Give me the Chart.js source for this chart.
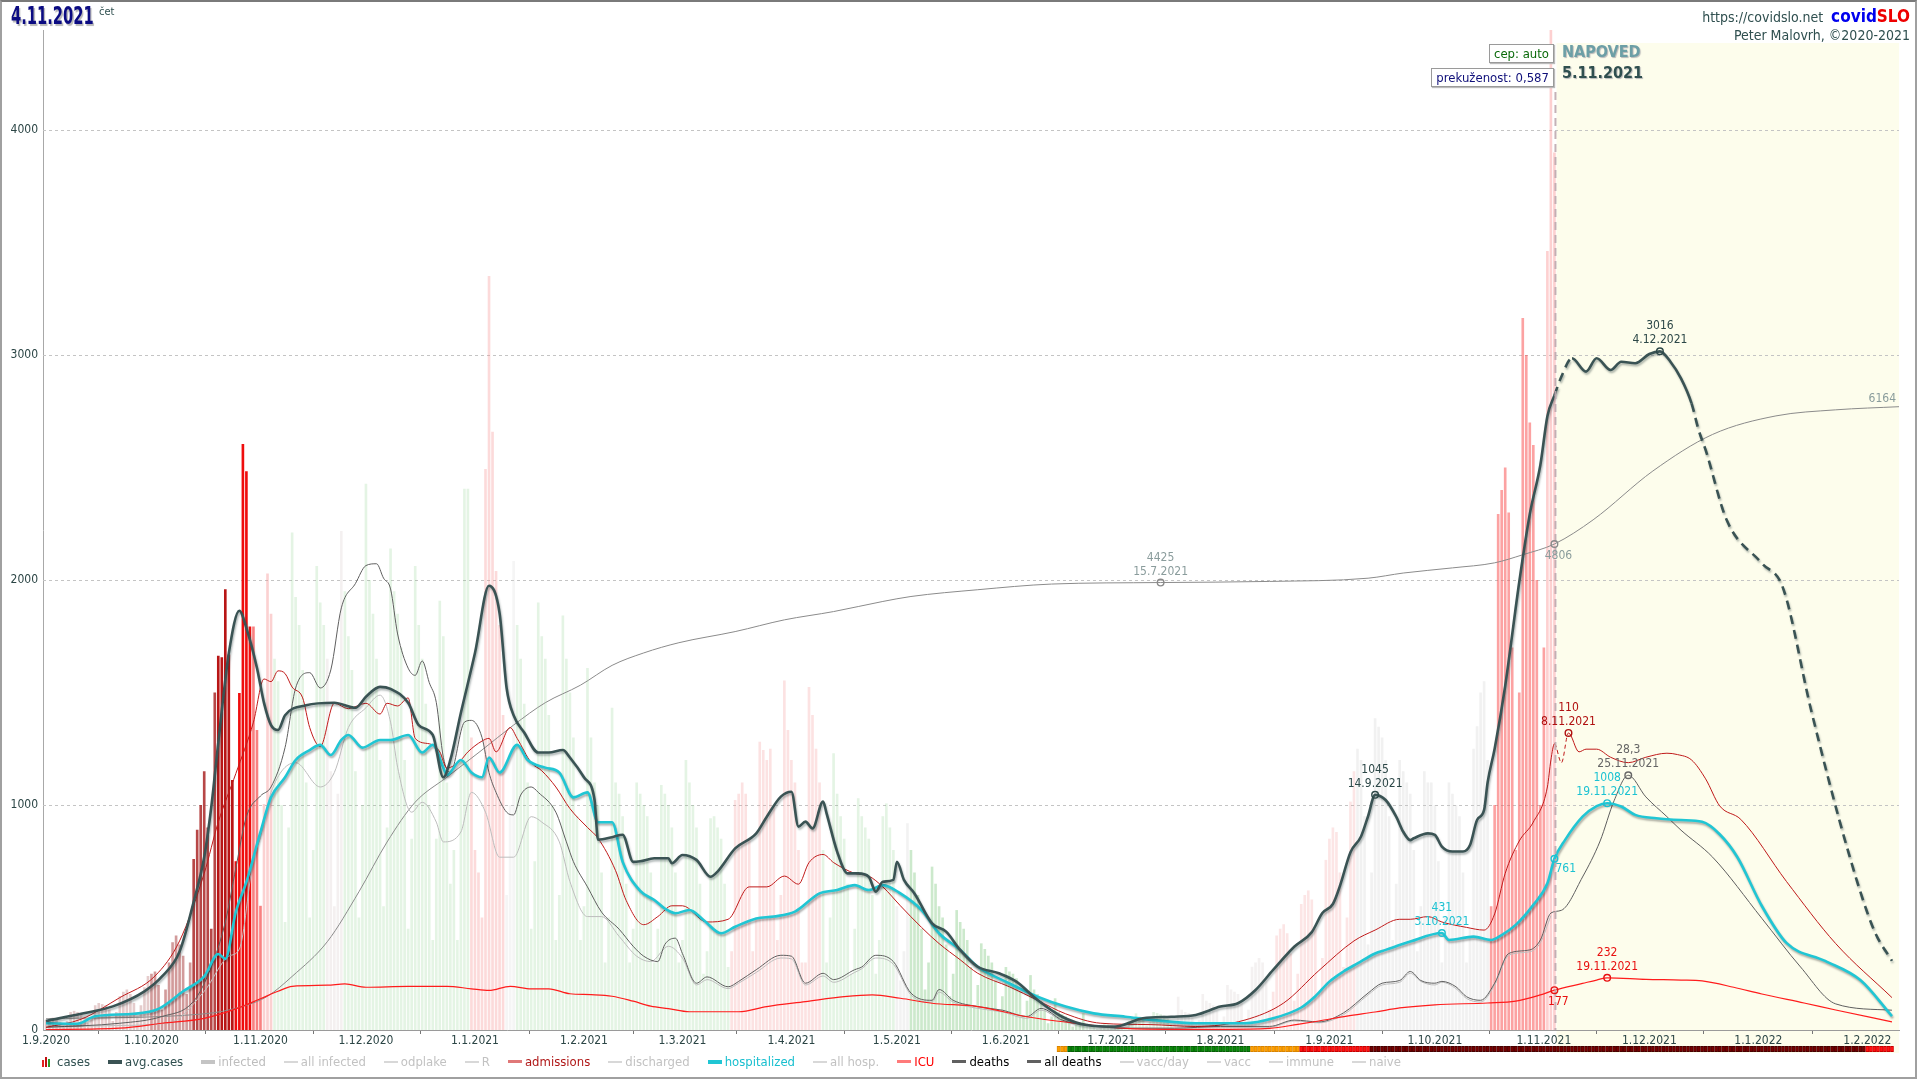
<!DOCTYPE html>
<html>
<head>
<meta charset="utf-8">
<title>covidSLO 4.11.2021</title>
<script src="https://cdn.jsdelivr.net/npm/chart.js@4.4.0/dist/chart.umd.min.js"></script>
<style>
  body { margin: 0; background: #fff; }
  #wrap { position: relative; width: 1920px; height: 1080px; overflow: hidden;
          font-family: "Liberation Sans Narrow", "DejaVu Sans Condensed", "Roboto", sans-serif; }
  canvas { position: absolute; left: 0; top: 0; }
  #frame { position: absolute; left: 0; top: 0; width: 1917px; height: 1079px; box-sizing: border-box;
           border: 2px solid #a0a0a0; border-top-color: #7a7a7a; pointer-events: none; }
  .ov { position: absolute; white-space: nowrap; }
  #date { left: 11px; top: 2px; font-weight: bold; font-size: 24px; color: #0b0b82; text-shadow: 2px 2px 1px #b8b8b8;
          transform: scaleX(0.68); transform-origin: left top; }
  #dow { left: 99px; top: 5px; font-size: 11px; color: #2f4f4f; }
  #site { right: 10px; top: 6px; font-size: 14px; color: #2f4f4f; }
  #site b { font-size: 17px; }
  #author { right: 10px; top: 27px; font-size: 14px; color: #2f4f4f; }
  #napoved { left: 1562px; top: 42px; font-weight: bold; font-size: 16px; color: #6c9fa6; text-shadow: 1px 1px 1px #b8b8b8; }
  #fdate { left: 1562px; top: 63px; font-weight: bold; font-size: 16px; color: #2f4f4f; text-shadow: 1px 1px 1px #b8b8b8; }
  .box { background: #fff; border: 1px solid #9a9a9a; box-shadow: 1px 1px 1px #bbb; font-size: 13px; padding: 1px 4px; }
  #cep { right: 366px; top: 44px; color: #0a6a0a; }
  #prek { right: 366px; top: 68px; color: #10107a; }
  #legend { left: 42px; top: 1054px; display: flex; gap: 18px; font-size: 13px; align-items: center; }
  #legend .it { display: flex; align-items: center; gap: 3px; }
  #legend .ln { display: inline-block; width: 14px; }
  #legend .bars { display: inline-flex; align-items: flex-end; gap: 1px; height: 10px; width: 12px; }
  #legend .bars i { display: inline-block; width: 2px; }
</style>
</head>
<body>
<div id="wrap">
  <canvas id="covidChart" width="1920" height="1080"></canvas>
  <div id="frame"></div>
  <div id="date" class="ov">4.11.2021</div>
  <div id="dow" class="ov">čet</div>
  <div id="site" class="ov">https://covidslo.net&nbsp; <b style="color:#0000ee">covid</b><b style="color:#ee0000">SLO</b></div>
  <div id="author" class="ov">Peter Malovrh, ©2020-2021</div>
  <div id="napoved" class="ov">NAPOVED</div>
  <div id="fdate" class="ov">5.11.2021</div>
  <div id="cep" class="ov box">cep: auto</div>
  <div id="prek" class="ov box">prekuženost: 0,587</div>
  <div id="legend" class="ov"></div>
</div>
<script>
// dates are counted in days from 1.9.2020
const START = Date.UTC(2020, 8, 1);
function dayOf(s) {
    const p = s.split('.').map(Number);
    return Math.round((Date.UTC(p[2], p[1] - 1, p[0]) - START) / 86400000);
}

const monthTicks = ['1.9.2020', '1.10.2020', '1.11.2020', '1.12.2020', '1.1.2021', '1.2.2021', '1.3.2021',
    '1.4.2021', '1.5.2021', '1.6.2021', '1.7.2021', '1.8.2021', '1.9.2021', '1.10.2021', '1.11.2021',
    '1.12.2021', '1.1.2022', '1.2.2022'];
const yTicks = [0, 1000, 2000, 3000, 4000];
const lastDay = '4.11.2021';

// daily confirmed cases, 1.9.2020 .. 4.11.2021 (rows Tue..Mon)
const casesDaily = [
    45, 50, 55, 45, 35, 20, 40,
    80, 85, 80, 75, 60, 30, 55,
    110, 120, 115, 110, 90, 40, 80,
    150, 170, 180, 160, 120, 60, 110,
    190, 240, 250, 260, 200, 90, 180,
    300, 390, 420, 380, 330, 160, 300,
    760, 890, 1000, 1150, 900, 450, 1500,
    1663, 1656, 1959, 1669, 1111, 750, 1498,
    2604, 2483, 1793, 1793, 1333, 552, 1004,
    2029, 1850, 1650, 1550, 1000, 480, 900,
    2211, 1924, 1800, 1600, 1100, 500, 800,
    2062, 1900, 1800, 1650, 1150, 550, 1050,
    2218, 1950, 1750, 1600, 1150, 500, 1000,
    2427, 2000, 1850, 1650, 1200, 550, 900,
    2140, 1950, 1850, 1700, 1200, 450, 850,
    2062, 1800, 1650, 1450, 1000, 400, 850,
    1908, 1750, 1100, 650, 800, 400, 1200,
    2405, 2405, 1300, 800, 700, 500, 2493,
    3351, 2659, 2040, 1800, 1400, 600, 1000,
    2084, 1800, 1650, 1450, 1100, 450, 750,
    1900, 1750, 1650, 1400, 1000, 400, 600,
    1842, 1650, 1500, 1300, 950, 400, 550,
    1609, 1300, 1100, 1000, 700, 300, 500,
    1432, 1100, 1050, 950, 650, 300, 450,
    1100, 1050, 1000, 950, 700, 300, 450,
    1089, 1050, 1000, 900, 700, 300, 400,
    1200, 1100, 1000, 900, 650, 250, 350,
    941, 950, 900, 850, 650, 280, 350,
    1022, 1050, 1100, 1050, 850, 350, 500,
    1281, 1244, 1200, 1250, 1000, 400, 600,
    1553, 1333, 1200, 1100, 800, 300, 300,
    1524, 1400, 1250, 1100, 800, 300, 500,
    1230, 1050, 950, 850, 650, 250, 450,
    1030, 950, 900, 850, 600, 250, 400,
    950, 1007, 900, 800, 550, 220, 350,
    919, 800, 700, 600, 450, 180, 300,
    726, 650, 550, 500, 380, 150, 250,
    533, 480, 450, 400, 280, 110, 200,
    385, 360, 330, 300, 220, 80, 150,
    280, 260, 250, 230, 170, 65, 130,
    244, 180, 160, 130, 90, 30, 60,
    141, 80, 70, 60, 40, 15, 25,
    35, 74, 30, 25, 15, 5, 8,
    30, 25, 20, 18, 12, 5, 8,
    40, 55, 74, 60, 45, 20, 35,
    80, 75, 70, 65, 50, 25, 40,
    148, 90, 80, 75, 55, 25, 45,
    160, 130, 120, 110, 85, 35, 60,
    200, 180, 170, 160, 120, 45, 90,
    281, 300, 320, 300, 240, 90, 170,
    420, 450, 470, 430, 340, 130, 250,
    560, 600, 620, 580, 450, 170, 320,
    756, 850, 900, 880, 700, 280, 500,
    1015, 1150, 1250, 1200, 950, 380, 700,
    1385, 1348, 1300, 1200, 950, 400, 650,
    1200, 1150, 1100, 1050, 800, 350, 550,
    1150, 1100, 1100, 1000, 750, 300, 500,
    1100, 1050, 1000, 950, 700, 300, 450,
    1250, 1350, 1500, 1550, 1200, 550, 1000,
    2293, 2400, 2500, 2300, 1700, 800, 1500,
    3164, 3000, 2700, 2600, 2000, 1000, 1700,
    3462, 4511, 3900
];

// [day, value] – measured series and forecast after 4.11.2021
const avgCases = [[0, 40], [10, 72], [19, 105], [28, 172], [33, 238], [38, 349], [42, 570], [45, 769], [47, 990],
    [49, 1277], [52, 1675], [55, 1863], [57, 1786], [60, 1609], [62, 1454], [64, 1355], [66, 1333], [68, 1399],
    [74, 1443], [82, 1454], [88, 1432], [91, 1481], [95, 1525], [98, 1516], [103, 1454], [106, 1355], [110, 1311],
    [113, 1123], [115, 1200], [118, 1410], [122, 1675], [126, 1974], [129, 1852], [131, 1520], [133, 1398],
    [136, 1322], [140, 1233], [143, 1233], [147, 1244], [149, 1211], [153, 1123], [156, 1023], [157, 846],
    [161, 857], [164, 868], [167, 747], [169, 750], [173, 763], [177, 763], [178, 741], [181, 778], [185, 756],
    [189, 681], [191, 704], [196, 807], [202, 874], [205, 948], [209, 1037], [212, 1059], [214, 904], [216, 926],
    [218, 896], [221, 1015], [222, 963], [225, 793], [228, 696], [231, 696], [234, 681], [236, 615], [238, 659],
    [241, 667], [242, 748], [244, 667], [247, 607], [252, 474], [256, 437], [260, 356], [265, 281], [271, 252],
    [276, 215], [282, 133], [289, 59], [296, 22], [304, 15], [312, 52], [320, 59], [327, 67], [334, 104],
    [339, 119], [344, 178], [349, 267], [355, 370], [360, 435], [363, 520], [366, 560], [368, 640], [371, 790],
    [374, 860], [376, 950], [378, 1045], [381, 1022], [384, 948], [386, 881], [388, 844], [389, 852], [393, 874],
    [395, 867], [397, 815], [400, 793], [403, 793], [405, 822], [407, 933], [409, 978], [410, 1100], [412, 1250],
    [415, 1529], [419, 1991], [422, 2293], [425, 2511], [427, 2728], [429, 2820], [431, 2904], [434, 2985],
    [438, 2926], [441, 2985], [445, 2933], [448, 2970], [452, 2963], [456, 3004], [459, 3016], [462, 2970],
    [465, 2896], [468, 2785], [470, 2667], [472, 2578], [478, 2266], [488, 2074], [494, 1965], [502, 1422],
    [513, 769], [520, 440], [525, 307]];

const hospitalized = [[0, 30], [9, 28], [14, 61], [25, 72], [32, 94], [39, 172], [45, 238], [49, 338], [51, 316],
    [54, 526], [57, 658], [61, 880], [64, 1034], [68, 1123], [71, 1200], [75, 1244], [78, 1267], [81, 1222],
    [84, 1289], [86, 1311], [90, 1255], [95, 1289], [98, 1289], [103, 1311], [107, 1233], [110, 1267],
    [113, 1166], [114, 1133], [118, 1200], [121, 1144], [124, 1123], [126, 1211], [129, 1144], [134, 1267],
    [137, 1200], [142, 1166], [146, 1144], [150, 1034], [154, 1056], [157, 923], [161, 923], [164, 747],
    [169, 618], [173, 578], [176, 540], [179, 519], [183, 533], [187, 489], [192, 430], [196, 459], [202, 496],
    [207, 504], [213, 526], [220, 607], [225, 622], [230, 644], [234, 622], [238, 644], [243, 607], [249, 533],
    [254, 430], [260, 356], [265, 281], [274, 207], [282, 148], [290, 104], [298, 74], [307, 59], [315, 44],
    [327, 30], [341, 30], [349, 52], [357, 100], [361, 150], [365, 215], [369, 260], [373, 296], [378, 340],
    [381, 356], [388, 393], [397, 431], [399, 400], [406, 415], [411, 400], [414, 422], [418, 467], [423, 556],
    [427, 652], [429, 761], [432, 844], [437, 948], [441, 995], [444, 1008], [448, 993], [452, 956], [458, 941],
    [465, 933], [471, 925], [476, 870], [481, 769], [488, 551], [495, 387], [506, 307], [516, 222], [525, 62]];

const icu = [[0, 2], [21, 8], [33, 30], [45, 52], [54, 94], [61, 139], [66, 172], [70, 194], [80, 199], [85, 205],
    [91, 190], [103, 194], [114, 194], [121, 183], [126, 176], [132, 194], [138, 183], [143, 183], [149, 161],
    [155, 157], [161, 150], [167, 128], [172, 106], [177, 95], [183, 81], [197, 81], [205, 104], [216, 126],
    [227, 148], [235, 156], [243, 141], [252, 119], [265, 104], [279, 59], [293, 30], [307, 7], [321, 3],
    [334, 3], [348, 7], [356, 25], [362, 40], [370, 62], [378, 80], [385, 98], [395, 112], [410, 120],
    [418, 128], [425, 156], [429, 177], [437, 207], [441, 222], [444, 232], [455, 225], [465, 222], [471, 218],
    [480, 190], [488, 160], [500, 120], [509, 89], [525, 36]];

const admissions = [[0, 1], [10, 4], [21, 12], [31, 20], [38, 33], [45, 58], [49, 77], [54, 95], [59, 114],
    [62, 130], [64, 129], [66, 133], [68, 132], [70, 127], [73, 123], [75, 112], [78, 105], [82, 121], [86, 119],
    [91, 121], [95, 117], [97, 121], [100, 120], [103, 123], [105, 108], [109, 106], [112, 103], [114, 97],
    [118, 100], [120, 103], [124, 107], [126, 108], [128, 103], [132, 112], [134, 108], [138, 99], [141, 96],
    [145, 90], [149, 82], [154, 75], [157, 71], [162, 59], [165, 48], [170, 39], [174, 42], [178, 46], [181, 46],
    [188, 40], [194, 41], [200, 53], [205, 53], [210, 57], [214, 54], [217, 62], [221, 65], [224, 62], [230, 58],
    [234, 57], [238, 53], [243, 46], [249, 38], [254, 32], [260, 26], [265, 21], [274, 16], [282, 11], [290, 6],
    [300, 2.5], [314, 2], [327, 1.3], [341, 3.7], [352, 10], [362, 22], [372, 33], [378, 37], [385, 41],
    [388, 41], [393, 42], [397, 40], [404, 38], [409, 37], [412, 43], [415, 58], [419, 70], [423, 77], [427, 90],
    [428, 100], [429, 106], [431, 99], [433, 110], [436, 103], [438, 104], [441, 104], [445, 101], [450, 99],
    [455, 101], [461, 102.5], [464, 102], [468, 100], [472, 93], [476, 83], [482, 78], [495, 55], [509, 32],
    [525, 12]];

const deaths = [[0, 0.3], [21, 0.75], [33, 1.5], [42, 3.2], [47, 7], [51, 12], [54, 18], [57, 23.7], [61, 26],
    [64, 27], [68, 31.4], [71, 38], [75, 39.7], [78, 38], [81, 40], [84, 46.9], [88, 49.6], [91, 51.6],
    [94, 51.8], [96, 50.2], [98, 49], [100, 44], [103, 40.2], [105, 39.4], [107, 41], [109, 38.6], [111, 36.4],
    [113, 30.3], [115, 28.6], [119, 34.2], [121, 34.4], [124, 32.5], [126, 28.6], [128, 26.4], [131, 24.2],
    [133, 23.9], [135, 26.1], [138, 27], [140, 26.4], [145, 24.2], [148, 20.9], [150, 18.7], [154, 15.9],
    [158, 13.1], [163, 11.2], [167, 9.3], [170, 8.2], [174, 7.6], [176, 9.5], [179, 10.2], [181, 8.5],
    [185, 5.2], [188, 5.9], [194, 4.8], [197, 5.4], [202, 6.7], [209, 8.3], [212, 8.2], [216, 5.2], [221, 6.3],
    [224, 5.6], [230, 6.7], [232, 7], [236, 8.3], [241, 7.6], [246, 4.1], [252, 3.3], [254, 4.5], [258, 3.3],
    [265, 2.6], [272, 2.2], [279, 1.5], [283, 2.4], [289, 1.1], [296, 0.55], [307, 0.2], [321, 0.2], [334, 0.4],
    [348, 0.4], [355, 1.1], [362, 0.9], [369, 1.9], [376, 4.1], [380, 5.2], [385, 5.5], [388, 6.5], [391, 5.5],
    [395, 5.2], [397, 5.4], [401, 4.8], [404, 3.7], [408, 3.3], [412, 5.2], [416, 8.5], [422, 8.9], [425, 10],
    [428, 13], [431, 13.3], [437, 17], [442, 21], [446, 25.5], [450, 28.3], [455, 25.9], [461, 23.7],
    [465, 22.2], [474, 19.2], [488, 12.4], [499, 7], [509, 2.9], [525, 2.2]];

const deathsHosp = [[0, 0.3], [20, 0.5], [35, 0.8], [45, 4.3], [52, 8.2], [55, 9], [59, 19], [61, 21.4],
    [64, 26.4], [71, 29.7], [78, 27], [82, 28.6], [86, 33.6], [91, 35.8], [95, 37.2], [98, 34.2], [100, 29.2],
    [104, 24.2], [107, 25.3], [111, 23.1], [113, 20.9], [118, 22], [121, 26.4], [125, 24.2], [129, 19.2],
    [133, 19.2], [138, 23.7], [141, 23.1], [146, 20.9], [149, 16.5], [154, 12.6], [158, 12.6], [163, 10.4],
    [168, 8.2], [172, 7.6], [177, 9.3], [181, 8], [185, 5], [188, 5.6], [194, 4.6], [197, 5.2], [202, 6.4],
    [209, 8], [212, 7.9], [216, 5], [221, 6], [224, 5.3], [230, 6.4], [232, 6.8], [236, 8], [241, 7.3],
    [246, 3.9], [252, 3.1], [254, 4.2], [258, 3.1], [265, 2.4], [272, 2], [279, 1.3], [283, 2.2], [289, 1],
    [296, 0.5], [307, 0.2], [321, 0.2], [334, 0.3], [348, 0.3], [355, 1], [362, 0.8], [369, 1.7], [376, 3.9],
    [380, 5], [385, 5.3], [388, 6.3], [391, 5.4], [395, 5], [397, 5.3], [401, 4.6], [404, 3.5], [408, 3.1],
    [412, 5], [416, 8.3], [422, 8.7], [425, 9.7], [428, 12.7]];

const allDeaths = [[0, 111], [45, 160], [56, 234], [63, 334], [70, 530], [80, 873], [89, 1367], [97, 1859],
    [105, 2253], [114, 2500], [124, 2769], [133, 3016], [142, 3237], [152, 3410], [161, 3606], [170, 3729],
    [180, 3830], [196, 3940], [210, 4056], [224, 4138], [238, 4238], [246, 4287], [265, 4354], [286, 4410],
    [317, 4425], [348, 4436], [376, 4468], [386, 4519], [400, 4570], [412, 4620], [420, 4700], [429, 4806],
    [440, 5045], [457, 5528], [474, 5890], [492, 6073], [509, 6133], [527, 6164]];

// risk colour strip under the axis: start day of each level, level index
const riskDays = [288, 291, 343, 357, 377, 518, 526];
const riskLevel = [1, 0, 1, 2, 3, 2];

// labelled points
const notes = [
    { set: 'all', date: '15.7.2021', value: 4425, text: ['4425', '15.7.2021'], pos: 'above' },
    { set: 'avg', date: '14.9.2021', value: 1045, text: ['1045', '14.9.2021'], pos: 'above' },
    { set: 'hosp', date: '3.10.2021', value: 431, text: ['431', '3.10.2021'], pos: 'above' },
    { set: 'hosp', date: '4.11.2021', value: 761, text: ['761'], pos: 'right' },
    { set: 'icu', date: '4.11.2021', value: 177, text: ['177'], pos: 'below' },
    { set: 'all', date: '4.11.2021', value: 4806, text: ['4806'], pos: 'below' },
    { set: 'adm', date: '8.11.2021', value: 110, text: ['110', '8.11.2021'], pos: 'above' },
    { set: 'hosp', date: '19.11.2021', value: 1008, text: ['1008', '19.11.2021'], pos: 'above' },
    { set: 'icu', date: '19.11.2021', value: 232, text: ['232', '19.11.2021'], pos: 'above' },
    { set: 'deaths', date: '25.11.2021', value: 28.3, text: ['28,3', '25.11.2021'], pos: 'above' },
    { set: 'avg', date: '4.12.2021', value: 3016, text: ['3016', '4.12.2021'], pos: 'above' },
    { set: 'all', date: '10.2.2022', value: 6164, text: ['6164'], pos: 'end' }
];

// ---- styles ----
const FONT = '"Liberation Sans Narrow", "DejaVu Sans Condensed", Roboto, sans-serif';
const C = {
    avg: '#3a5354', hosp: '#20c6d4', icu: '#ff1c1c', adm: '#c01a1a',
    deaths: '#5f5f5f', deathsHosp: '#bdbdbd', all: '#8b8b8b', text: '#2f4f4f'
};
const noteStyle = {
    all: { axis: 'yAll', color: '#8a9c9c', mark: '#8a8a8a' },
    avg: { axis: 'y', color: '#2c4747', mark: '#2c4747' },
    hosp: { axis: 'y', color: '#1cc2d2', mark: '#1cc2d2' },
    icu: { axis: 'y', color: '#e81010', mark: '#e81010' },
    adm: { axis: 'yAdm', color: '#b01010', mark: '#b01010' },
    deaths: { axis: 'yDeaths', color: '#666666', mark: '#666666' }
};
const barTones = [
    [0, 'rgba(175,95,95,0.32)'], [30, 'rgba(165,55,55,0.5)'], [42, 'rgba(165,25,25,0.8)'],
    [49, 'rgba(180,8,8,0.95)'], [54, 'rgba(238,0,0,0.95)'], [59, 'rgba(245,60,60,0.65)'],
    [62, 'rgba(245,140,140,0.4)'], [65, 'rgba(130,205,130,0.22)'], [80, 'rgba(205,185,185,0.22)'],
    [85, 'rgba(130,205,130,0.22)'], [121, 'rgba(245,140,140,0.32)'], [131, 'rgba(215,215,215,0.25)'],
    [134, 'rgba(130,205,130,0.22)'], [195, 'rgba(245,140,140,0.25)'], [221, 'rgba(130,205,130,0.22)'],
    [242, 'rgba(205,205,205,0.25)'], [246, 'rgba(105,190,105,0.34)'], [296, 'rgba(130,205,130,0.25)'],
    [321, 'rgba(210,200,200,0.25)'], [348, 'rgba(245,150,150,0.25)'], [373, 'rgba(205,205,205,0.28)'],
    [411, 'rgba(250,85,85,0.55)'], [427, 'rgba(250,150,150,0.45)']
];
const riskFill = ['#0b8a0b', '#ffa000', '#ff1212', '#760000'];
const riskEdge = ['#055f05', '#d98400', '#c80000', '#480000'];

function barTone(d) {
    let c = barTones[0][1];
    barTones.forEach(t => { if (d >= t[0]) c = t[1]; });
    return c;
}
const xy = arr => arr.map(p => ({ x: p[0], y: p[1] }));
const FC = dayOf(lastDay);            // last measured day

const forecastBg = {
    id: 'forecastBg',
    beforeDraw(chart) {
        const { ctx, chartArea, scales } = chart;
        const x0 = scales.x.getPixelForValue(FC + 0.6);
        ctx.save();
        ctx.fillStyle = '#fdfdec';
        ctx.fillRect(x0, 43, chartArea.right - x0, 1053 - 43);
        ctx.restore();
    }
};

const gridLines = {
    id: 'gridLines',
    beforeDatasetsDraw(chart) {
        const { ctx, chartArea, scales } = chart;
        ctx.save();
        ctx.strokeStyle = '#c4c4c4';
        ctx.lineWidth = 1;
        ctx.setLineDash([3, 3]);
        yTicks.slice(1).forEach(v => {
            const y = Math.round(scales.y.getPixelForValue(v)) + 0.5;
            ctx.beginPath();
            ctx.moveTo(chartArea.left, y);
            ctx.lineTo(chartArea.right, y);
            ctx.stroke();
        });
        ctx.restore();
    }
};

const shadows = {
    id: 'shadows',
    beforeDatasetDraw(chart, args) {
        const ds = chart.data.datasets[args.index];
        if (!ds.shadow) return;
        chart.ctx.save();
        chart.ctx.shadowColor = ds.shadow;
        chart.ctx.shadowOffsetX = 1;
        chart.ctx.shadowOffsetY = 2;
        chart.ctx.shadowBlur = 2;
    },
    afterDatasetDraw(chart, args) {
        if (chart.data.datasets[args.index].shadow) chart.ctx.restore();
    }
};

const notesPlugin = {
    id: 'notes',
    afterDatasetsDraw(chart) {
        const { ctx, scales, chartArea } = chart;
        // forecast divider
        const xs = scales.x.getPixelForValue(FC + 0.3);
        ctx.save();
        ctx.strokeStyle = 'rgba(190,170,175,0.9)';
        ctx.lineWidth = 2;
        ctx.setLineDash([8, 5]);
        ctx.beginPath();
        ctx.moveTo(xs, 92);
        ctx.lineTo(xs, chartArea.bottom);
        ctx.stroke();
        ctx.setLineDash([]);

        ctx.font = '12px ' + FONT;
        ctx.textAlign = 'center';
        ctx.textBaseline = 'middle';
        notes.forEach(n => {
            const st = noteStyle[n.set];
            const px = scales.x.getPixelForValue(dayOf(n.date));
            const py = scales[st.axis].getPixelForValue(n.value);
            ctx.fillStyle = st.color;
            if (n.pos === 'end') {
                ctx.textAlign = 'right';
                ctx.fillText(n.text[0], chartArea.right - 3, py - 8);
                ctx.textAlign = 'center';
                return;
            }
            ctx.beginPath();
            ctx.arc(px, py, 3.3, 0, Math.PI * 2);
            ctx.lineWidth = 1.4;
            ctx.strokeStyle = st.mark;
            ctx.stroke();
            if (n.pos === 'above') {
                ctx.fillText(n.text[0], px, py - 25);
                ctx.fillText(n.text[1], px, py - 11);
            } else if (n.pos === 'right') {
                ctx.textAlign = 'left';
                ctx.fillText(n.text[0], px + 1, py + 10);
                ctx.textAlign = 'center';
            } else {
                ctx.fillText(n.text[0], px + 4, py + 12);
            }
        });
        ctx.restore();
    }
};

const riskStrip = {
    id: 'riskStrip',
    afterDraw(chart) {
        const { ctx, scales } = chart;
        const y0 = 1046, h = 6;
        ctx.save();
        for (let i = 0; i < riskLevel.length; i++) {
            for (let d = riskDays[i]; d < riskDays[i + 1]; d++) {
                const a = scales.x.getPixelForValue(d - 0.5);
                const b = scales.x.getPixelForValue(d + 0.5);
                ctx.fillStyle = riskEdge[riskLevel[i]];
                ctx.fillRect(a, y0, b - a, h);
                ctx.fillStyle = riskFill[riskLevel[i]];
                ctx.fillRect(a + 0.6, y0 + 1, b - a - 1.2, h - 2);
            }
        }
        ctx.restore();
    }
};

Chart.defaults.font.family = FONT;

const lineBase = { type: 'line', pointRadius: 0, fill: false, cubicInterpolationMode: 'monotone' };

new Chart(document.getElementById('covidChart').getContext('2d'), {
    type: 'bar',
    data: {
        datasets: [
            Object.assign({}, lineBase, {
                label: 'avg.cases', data: xy(avgCases), borderColor: C.avg, borderWidth: 2.6, order: 1,
                shadow: 'rgba(30,50,50,0.35)',
                segment: {
                    borderDash: s => {
                        const a = s.p0.parsed.x;
                        return (a >= FC && a < FC + 4) || a >= 466 ? [9, 6] : undefined;
                    }
                }
            }),
            Object.assign({}, lineBase, {
                label: 'hospitalized', data: xy(hospitalized), borderColor: C.hosp, borderWidth: 2.6, order: 2,
                shadow: 'rgba(0,0,0,0.32)'
            }),
            Object.assign({}, lineBase, {
                label: 'ICU', data: xy(icu), borderColor: C.icu, borderWidth: 1.2, order: 3
            }),
            Object.assign({}, lineBase, {
                label: 'admissions', data: xy(admissions), yAxisID: 'yAdm', borderColor: C.adm, borderWidth: 1, order: 4,
                segment: {
                    borderDash: s => {
                        const a = s.p0.parsed.x;
                        return a >= FC && a < FC + 4 ? [4, 3] : undefined;
                    }
                }
            }),
            Object.assign({}, lineBase, {
                label: 'deaths', data: xy(deaths), yAxisID: 'yDeaths', borderColor: C.deaths, borderWidth: 1, order: 5
            }),
            Object.assign({}, lineBase, {
                label: 'deaths (hosp.)', data: xy(deathsHosp), yAxisID: 'yDeaths', borderColor: C.deathsHosp, borderWidth: 1, order: 6
            }),
            Object.assign({}, lineBase, {
                label: 'all deaths', data: xy(allDeaths), yAxisID: 'yAll', borderColor: C.all, borderWidth: 1, order: 7
            }),
            {
                type: 'bar', label: 'cases', order: 10,
                data: casesDaily.map((v, i) => ({ x: i, y: v })),
                backgroundColor: casesDaily.map((v, i) => barTone(i)),
                barPercentage: 0.75, categoryPercentage: 1
            }
        ]
    },
    options: {
        responsive: false,
        animation: false,
        devicePixelRatio: 1,
        layout: { padding: { left: 0, right: 21, top: 30, bottom: 30 } },
        plugins: { legend: { display: false }, tooltip: { enabled: false } },
        scales: {
            x: {
                type: 'linear', offset: false, min: -0.85, max: 527,
                afterFit: s => { s.height = 20; },
                afterBuildTicks: s => { s.ticks = monthTicks.map(t => ({ value: dayOf(t) })); },
                ticks: {
                    autoSkip: false, maxRotation: 0, padding: 0, color: '#2b4545',
                    font: { size: 12 },
                    callback: v => monthTicks.find(t => dayOf(t) === v) || ''
                },
                grid: { drawOnChartArea: false, drawTicks: true, tickLength: 4, tickColor: '#777' },
                border: { color: '#9a9a9a' }
            },
            y: {
                min: 0, max: 4444,
                afterFit: s => { s.width = 43; },
                afterBuildTicks: s => { s.ticks = yTicks.map(v => ({ value: v })); },
                ticks: { color: '#2b4545', font: { size: 12 }, padding: 5, callback: v => String(v) },
                grid: { display: false, drawTicks: false },
                border: { color: '#a8a8a8' }
            },
            yAdm: { display: false, min: 0, max: 4444 / 12 },
            yDeaths: { display: false, min: 0, max: 4444 / 40 },
            yAll: { display: false, min: 0, max: 4444 * 2.2253 }
        }
    },
    plugins: [forecastBg, gridLines, shadows, notesPlugin, riskStrip]
});

// legend row
const legendItems = [
    { label: 'cases', kind: 'bars', text: '#2f4f4f' },
    { label: 'avg.cases', line: '#3a5354', h: 4, text: '#2f4f4f' },
    { label: 'infected', line: '#c4c4c4', h: 4, text: '#bdbdbd' },
    { label: 'all infected', line: '#d8d8d8', h: 2, text: '#c2c2c2' },
    { label: 'odplake', line: '#d8d8d8', h: 2, text: '#c2c2c2' },
    { label: 'R', line: '#d8d8d8', h: 2, text: '#c2c2c2' },
    { label: 'admissions', line: '#e07878', h: 3, text: '#b01818' },
    { label: 'discharged', line: '#d8d8d8', h: 2, text: '#c2c2c2' },
    { label: 'hospitalized', line: '#20c6d4', h: 4, text: '#18bfcf' },
    { label: 'all hosp.', line: '#d8d8d8', h: 2, text: '#c2c2c2' },
    { label: 'ICU', line: '#ff7a7a', h: 3, text: '#ff0000' },
    { label: 'deaths', line: '#606060', h: 3, text: '#000000' },
    { label: 'all deaths', line: '#606060', h: 3, text: '#000000' },
    { label: 'vacc/day', line: '#d8d8d8', h: 2, text: '#c2c2c2' },
    { label: 'vacc', line: '#d8d8d8', h: 2, text: '#c2c2c2' },
    { label: 'immune', line: '#d8d8d8', h: 2, text: '#c2c2c2' },
    { label: 'naive', line: '#d8d8d8', h: 2, text: '#c2c2c2' }
];
const legendEl = document.getElementById('legend');
legendItems.forEach(it => {
    const el = document.createElement('span');
    el.className = 'it';
    let icon;
    if (it.kind === 'bars') {
        icon = '<span class="bars"><i style="height:7px;background:#e42020"></i><i style="height:10px;background:#c01010"></i><i style="height:8px;background:#2a9a2a"></i></span>';
    } else {
        icon = '<span class="ln" style="height:' + it.h + 'px;background:' + it.line + '"></span>';
    }
    el.innerHTML = icon + '<span style="color:' + it.text + '">' + it.label + '</span>';
    legendEl.appendChild(el);
});
</script>
</body>
</html>
